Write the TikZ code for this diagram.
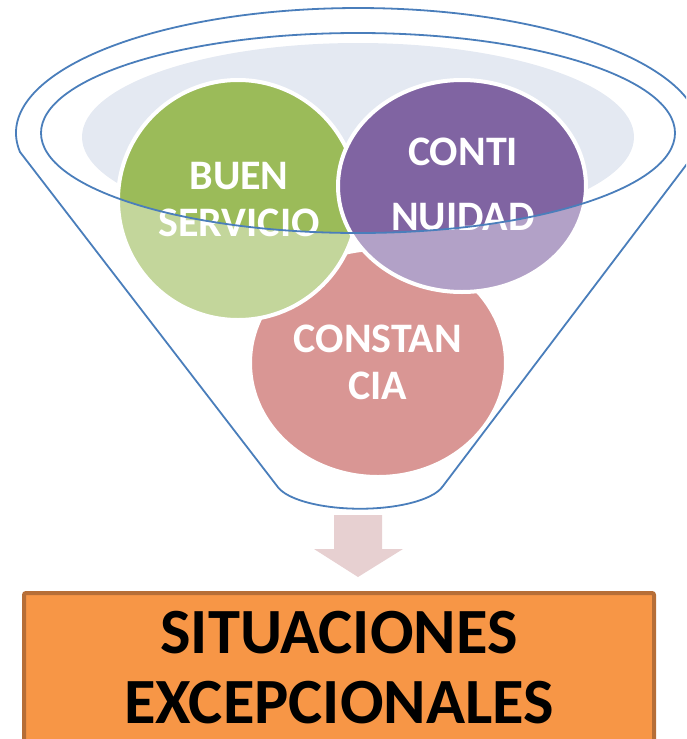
\documentclass[tikz,border=0pt]{standalone}
\usepackage{fontspec}
\setmainfont{Carlito}
\usetikzlibrary{positioning}
\definecolor{rimblue}{HTML}{4A7EBB}
\definecolor{bowl}{HTML}{E4E9F2}
\definecolor{greendark}{HTML}{9BBB59}
\definecolor{greenlight}{HTML}{C3D69B}
\definecolor{purpledark}{HTML}{8064A2}
\definecolor{purplelight}{HTML}{B2A1C7}
\definecolor{pinklight}{HTML}{D99694}
\definecolor{arrowpink}{HTML}{E7D0D1}
\definecolor{boxfill}{HTML}{F79646}
\definecolor{boxline}{HTML}{B66E37}
\tikzstyle{rim} = [draw=rimblue, line width=1.8pt]
\tikzstyle{bubbleline} = [draw=white, line width=4pt]
\tikzstyle{bubbletext} = [text=white, font=\bfseries\fontsize{42}{47}\selectfont, align=center]
\tikzstyle{outbox} = [draw=boxline, line width=4pt, fill=boxfill, rounded corners=2pt, minimum width=630pt, minimum height=150pt, align=center, font=\bfseries\fontsize{64.5}{70}\selectfont]

\begin{document}
\begin{tikzpicture}[x=1pt, y=-1pt]
  \useasboundingbox (0,0) rectangle (686,739);
  \clip (0,0) rectangle (686,739);

  % bowl of the funnel
  \fill[bowl] (358,137) ellipse [x radius=276, y radius=94];

  % bubbles: light below the rim, dark inside it
  \fill[pinklight] (378,363) ellipse [x radius=128, y radius=114];
  \draw[bubbleline] (378,363) ellipse [x radius=128, y radius=114];

  \fill[greenlight] (238,200) circle [radius=120];
  \begin{scope}
    \clip (358,133) ellipse [x radius=317, y radius=100];
    \fill[greendark] (238,200) circle [radius=120];
  \end{scope}
  \draw[bubbleline] (238,200) circle [radius=120];

  \fill[purplelight] (462,186) ellipse [x radius=124, y radius=106];
  \begin{scope}
    \clip (358,133) ellipse [x radius=317, y radius=100];
    \fill[purpledark] (462,186) ellipse [x radius=124, y radius=106];
  \end{scope}
  \draw[bubbleline] (462,186) ellipse [x radius=124, y radius=106];

  \node[bubbletext] (buen) at (239,200) {BUEN\\SERVICIO};
  \node[bubbletext, font=\bfseries\fontsize{42}{65}\selectfont] (conti) at (463,184) {CONTI\\NUIDAD};
  \node[bubbletext] (constan) at (378,362) {CONSTAN\\CIA};

  % rim and body of the funnel
  \draw[rim] (358,133) ellipse [x radius=317, y radius=100];
  \draw[rim] (20,152) arc [start angle=171.26, end angle=368.74, x radius=342, y radius=125]
    -- (443,486) arc [start angle=12.5, end angle=167.5, x radius=85, y radius=29] -- cycle;

  % block arrow
  \fill[arrowpink] (334,515) -- (382,515) -- (382,549) -- (403,549) -- (358,577)
    -- (314,549) -- (334,549) -- cycle;

  \node[outbox] (situaciones) at (339,668) {SITUACIONES\\EXCEPCIONALES};
\end{tikzpicture}
\end{document}
